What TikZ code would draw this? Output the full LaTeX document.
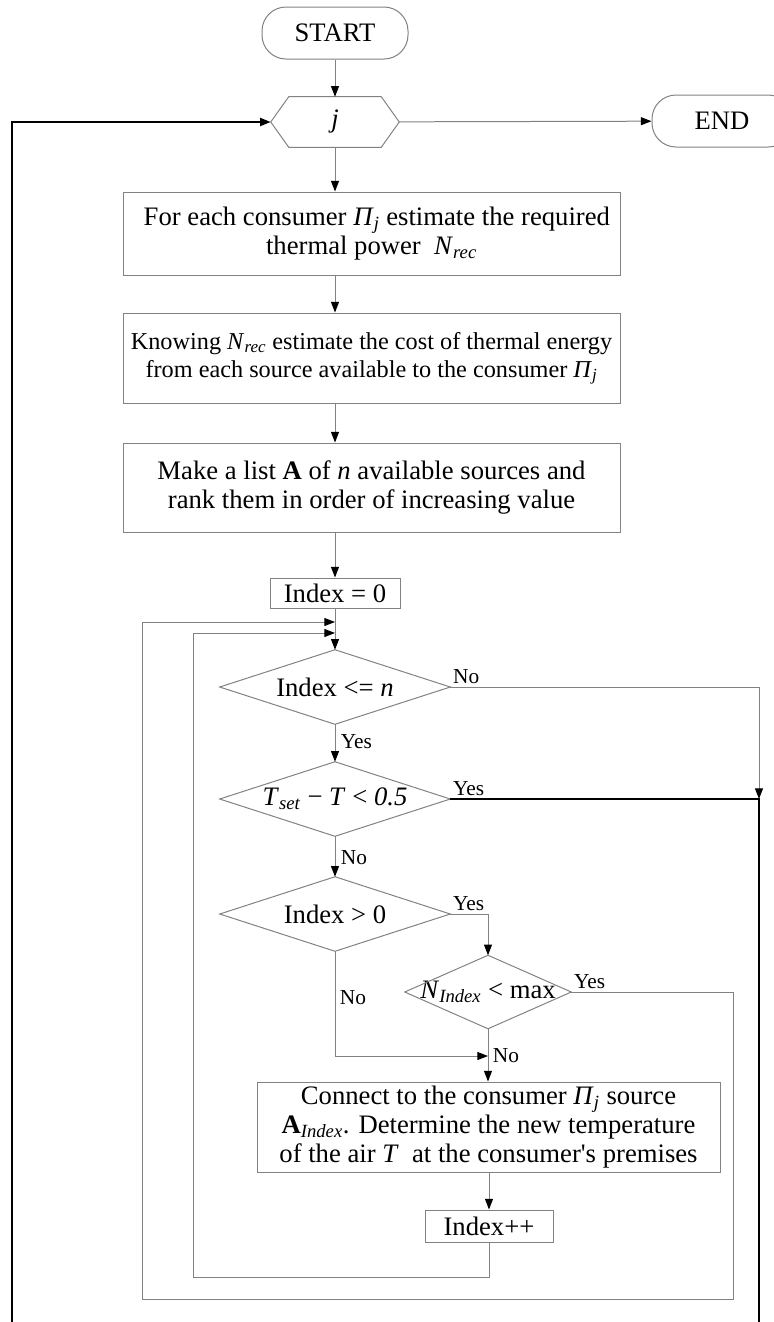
\documentclass[tikz,border=0pt]{standalone}
\usepackage{fontspec}
\setmainfont{Liberation Serif}
\usetikzlibrary{arrows.meta}
\definecolor{lgray}{RGB}{130,130,130}
\newcommand{\mainfs}{\fontsize{20}{21.5}\selectfont}
\newcommand{\smallfs}{\fontsize{18.2}{21}\selectfont}
\newcommand{\lblfs}{\fontsize{16}{18}\selectfont}
\begin{document}
\begin{tikzpicture}[x=0.75pt,y=-0.75pt,
  ln/.style={draw=lgray, line width=0.75pt},
  tk/.style={draw=black, line width=1.5pt},
  arr/.style={-{Triangle[length=8pt,width=6pt,color=black]}},
  term/.style={draw=lgray, line width=0.75pt, rounded corners=18pt, inner sep=0pt, font=\mainfs},
  box/.style={draw=lgray, line width=0.75pt, rectangle, inner sep=0pt, align=center, font=\mainfs},
  shp/.style={inner sep=0pt, align=center, font=\mainfs},
  lbl/.style={inner sep=2pt, font=\lblfs}
]
\path[use as bounding box, clip] (0,0) rectangle (774,1322);

% terminals
\node[term, minimum width={146*0.75pt}, minimum height={52*0.75pt}] (start) at (335,33) {START};
\node[term, minimum width={140*0.75pt}, minimum height={52*0.75pt}] (end) at (722,121) {END};

% hexagon j
\node[shp, minimum width={128*0.75pt}, minimum height={50*0.75pt}] (j) at (335,122) {\textit{j}};
\draw[ln] (j.west) -- ([xshift=13.5pt]j.north west) -- ([xshift=-13.5pt]j.north east) -- (j.east)
  -- ([xshift=-13.5pt]j.south east) -- ([xshift=13.5pt]j.south west) -- cycle;

% process boxes
\node[box, minimum width={497*0.75pt}, minimum height={83*0.75pt}] (b1) at (371.5,233.5)
  {\hspace*{8pt}For each consumer \textit{Π}\textsubscript{\textit{j}} estimate the required\\thermal power \ \textit{N}\textsubscript{\textit{rec}}};
\node[box, font=\smallfs, minimum width={497*0.75pt}, minimum height={90*0.75pt}] (b2) at (371.5,358)
  {Knowing \textit{N}\textsubscript{\textit{rec}} estimate the cost of thermal energy\\from each source available to the consumer \textit{Π}\textsubscript{\textit{j}}};
\node[box, minimum width={497*0.75pt}, minimum height={89*0.75pt}] (b3) at (371.5,487.5)
  {Make a list \textbf{A} of \textit{n} available sources and\\rank them in order of increasing value};
\node[box, minimum width={130*0.75pt}, minimum height={30*0.75pt}] (i0) at (335,593) {Index = 0};

% decisions
\node[shp, minimum width={230*0.75pt}, minimum height={74*0.75pt}] (d1) at (335,687) {Index <= \textit{n}};
\node[shp, minimum width={230*0.75pt}, minimum height={74*0.75pt}] (d2) at (335,799)
  {\textit{T}\textsubscript{\textit{set}} − \textit{T} < \textit{0.5}};
\node[shp, minimum width={230*0.75pt}, minimum height={74*0.75pt}] (d3) at (335,914) {Index > 0};
\node[shp, minimum width={166*0.75pt}, minimum height={73*0.75pt}] (d4) at (488,992)
  {\textit{N}\textsubscript{\textit{Index}} < max};
\foreach \d in {d1,d2,d3,d4}
  \draw[ln] (\d.north) -- (\d.east) -- (\d.south) -- (\d.west) -- cycle;

\node[box, minimum width={463*0.75pt}, minimum height={90*0.75pt}] (b4) at (488.5,1127)
  {Connect to the consumer \textit{Π}\textsubscript{\textit{j}} source\\
   \textbf{A}\textsubscript{\textit{Index}}. Determine the new temperature\\
   of the air \textit{T} \ at the consumer\textquotesingle s premises};
\node[box, minimum width={128*0.75pt}, minimum height={32*0.75pt}] (i2) at (489,1226) {Index++};

% coordinates
\coordinate (lb) at (12,1322);
\coordinate (rj) at (759,799);
\coordinate (rb) at (759,1322);
\coordinate (m1) at (335,622);
\coordinate (m2) at (335,633);
\coordinate (jn) at (488,1056);

% connectors
\draw[ln,arr] (start) -- (j);
\draw[tk,arr] (lb) |- (j.west);
\draw[ln,arr] (j) -- (end);
\draw[ln,arr] (j.south) -- (j.south |- b1.north);
\draw[ln,arr] (b1.south -| j) -- (b2.north -| j);
\draw[ln,arr] (b2.south -| j) -- (b3.north -| j);
\draw[ln,arr] (b3.south -| i0) -- (i0.north);
\draw[ln,arr] (i0) -- (d1);
\draw[ln,arr] (d1.east) -| (rj);
\draw[tk] (d2.east) -- (rj) -- (rb);
\draw[ln,arr] (d1) -- (d2);
\draw[ln,arr] (d2) -- (d3);
\draw[ln,arr] (d3.east) -| (d4.north);
\draw[ln,arr] (d4.east) -| (733,1299) -| (142,622) -- (m1);
\draw[ln,arr] (d3.south) |- (jn);
\draw[ln,arr] (d4.south) -- (d4.south |- b4.north);
\draw[ln,arr] (b4.south -| i2) -- (i2.north);
\draw[ln,arr] (i2.south) |- (193,1277) |- (m2);

% labels
\node[lbl, anchor=south west] (l1) at (d1.east) {No};
\node[lbl, anchor=west] (l2) at (338,742) {Yes};
\node[lbl, anchor=south west] (l3) at (d2.east) {Yes};
\node[lbl, anchor=west] (l4) at (338,858) {No};
\node[lbl, anchor=south west] (l5) at (d3.east) {Yes};
\node[lbl, anchor=west] (l6) at (337,998) {No};
\node[lbl, anchor=south west] (l7) at (d4.east) {Yes};
\node[lbl, anchor=west] (l8) at (490,1056) {No};
\end{tikzpicture}
\end{document}
